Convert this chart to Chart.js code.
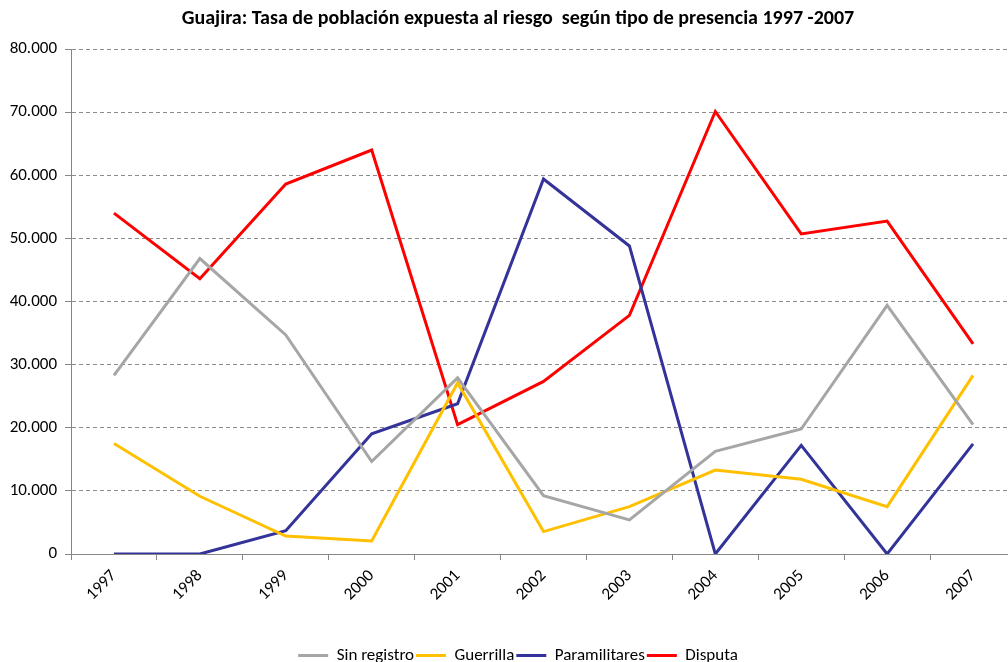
<!DOCTYPE html>
<html>
<head>
<meta charset="utf-8">
<script src="https://cdn.jsdelivr.net/npm/chart.js@4/dist/chart.umd.min.js"></script>
<style>
  html, body { margin: 0; padding: 0; background: #fff; overflow: hidden; }
  #wrap { width: 1036px; height: 674px; }
</style>
</head>
<body>
<div id="wrap"><canvas id="grafico"></canvas></div>
<script>
// datos
const anios = ['1997', '1998', '1999', '2000', '2001', '2002', '2003', '2004', '2005', '2006', '2007'];
const sinRegistro = [28300, 46800, 34700, 14650, 27900, 9250, 5400, 16250, 19800, 39400, 20500];
const guerrilla = [17500, 9150, 2850, 2060, 27100, 3550, 7500, 13300, 11850, 7500, 28300];
const paramilitares = [0, 0, 3700, 19050, 23800, 59400, 48800, 0, 17200, 0, 17450];
const disputa = [54000, 43600, 58600, 64000, 20500, 27350, 37800, 70100, 50700, 52750, 33300];

const fuente = "Calibri, Carlito, 'Liberation Sans Narrow', 'Open Sans', sans-serif";

// separador de miles con punto
function miles(v) {
  return String(Math.round(v)).replace(/\B(?=(\d{3})+(?!\d))/g, '.');
}

function serie(nombre, valores, color) {
  return {
    label: nombre,
    data: valores,
    borderColor: color,
    backgroundColor: color,
    borderWidth: 3,
    pointRadius: 0,
    pointHoverRadius: 0,
    tension: 0,
    fill: false
  };
}

new Chart(document.getElementById('grafico'), {
  type: 'line',
  data: {
    labels: anios,
    datasets: [
      serie('Sin registro', sinRegistro, '#A6A6A6'),
      serie('Guerrilla', guerrilla, '#FFC000'),
      serie('Paramilitares', paramilitares, '#333399'),
      serie('Disputa', disputa, '#FF0000')
    ]
  },
  options: {
    responsive: true,
    maintainAspectRatio: false,
    animation: false,
    layout: { padding: 0 },
    plugins: {
      title: {
        display: true,
        text: 'Guajira: Tasa de población expuesta al riesgo  según tipo de presencia 1997 -2007',
        color: '#000',
        font: { family: fuente, size: 20, weight: 'bold' },
        padding: { top: 7, bottom: 18 }
      },
      legend: {
        position: 'bottom',
        labels: {
          usePointStyle: true,
          pointStyle: 'line',
          pointStyleWidth: 30,
          boxWidth: 30,
          color: '#000',
          font: { family: fuente, size: 17 },
          padding: 2
        }
      },
      tooltip: { enabled: false }
    },
    scales: {
      x: {
        offset: true,
        grid: {
          offset: true,
          drawOnChartArea: false,
          drawTicks: true,
          tickLength: 6,
          tickColor: '#868686'
        },
        border: { color: '#868686', width: 1 },
        ticks: {
          color: '#000',
          font: { family: fuente, size: 17 },
          maxRotation: 45,
          minRotation: 45,
          padding: 6
        },
        afterFit: s => { s.height = 91; }
      },
      y: {
        min: 0,
        max: 80000,
        ticks: {
          stepSize: 10000,
          color: '#000',
          font: { family: fuente, size: 17 },
          padding: 8,
          callback: v => miles(v)
        },
        grid: {
          color: '#8C8C8C',
          tickColor: '#868686',
          tickLength: 6,
          lineWidth: 1
        },
        border: { color: '#868686', width: 1, dash: [4, 3] },
        afterFit: s => { s.width = 71; }
      },
      // eje vacio a la derecha, solo reserva espacio
      margen: {
        type: 'linear',
        position: 'right',
        ticks: { display: false },
        grid: { display: false },
        border: { display: false },
        afterFit: s => { s.width = 20; }
      }
    }
  }
});
</script>
</body>
</html>
